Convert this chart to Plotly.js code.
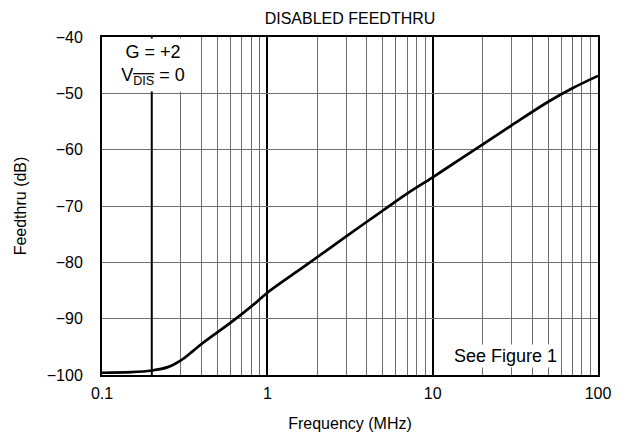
<!DOCTYPE html>
<html>
<head>
<meta charset="utf-8">
<script src="https://cdn.plot.ly/plotly-3.0.1.min.js"></script>
<style>html,body{margin:0;padding:0;background:#fff;}#chart{width:630px;height:441px;}</style>
</head>
<body>
<div id="chart"></div>
<script>
// Data
var freqMHz = [0.1, 0.15, 0.2, 0.25, 0.3, 0.35, 0.4, 0.5, 0.6, 0.7, 0.85, 1, 1.5, 2, 3, 4, 5, 7, 10, 15, 20, 30, 50, 70, 100];
var feedthruDB = [-99.6, -99.5, -99.2, -98.6, -97.4, -95.9, -94.5, -92.4, -90.7, -89.2, -87.2, -85.4, -81.7, -79.1, -75.4, -72.8, -70.8, -67.8, -64.9, -61.5, -59.1, -55.7, -51.5, -49.1, -46.9];
var majorTicks = [0.1, 1, 10, 100];
var majorLabels = ['0.1', '1', '10', '100'];
var minorTicks = [0.2,0.3,0.4,0.5,0.6,0.7,0.8,0.9,2,3,4,5,6,7,8,9,20,30,40,50,60,70,80,90];
var yTicks = [-100, -90, -80, -70, -60, -50, -40];
var markerLineFreq = 0.2;

var font = 'Liberation Sans, Arial, sans-serif';

var trace = {
  x: freqMHz, y: feedthruDB, type: 'scatter', mode: 'lines',
  line: {color: '#000', width: 2.7, shape: 'spline', smoothing: 1},
  hoverinfo: 'skip', showlegend: false
};

var layout = {
  width: 630, height: 441,
  margin: {l: 102, r: 32, t: 37, b: 66},
  paper_bgcolor: '#fff', plot_bgcolor: '#fff',
  font: {family: font, size: 16, color: '#000'},
  title: {text: 'DISABLED FEEDTHRU', font: {family: font, size: 16, color: '#000'},
          x: 0.5, xref: 'paper', xanchor: 'center', y: 1 - 18/441, yref: 'container', yanchor: 'middle'},
  xaxis: {
    type: 'log', range: [-1, 2],
    tickvals: majorTicks, ticktext: majorLabels,
    showgrid: true, gridcolor: '#000', gridwidth: 2,
    showline: true, mirror: true, linecolor: '#000', linewidth: 2,
    ticks: 'outside', ticklen: 3, tickcolor: 'rgba(0,0,0,0)',
    minor: {tickvals: minorTicks, showgrid: true, gridcolor: '#6e6e6e', gridwidth: 1, ticks: ''},
    zeroline: false,
    tickfont: {family: font, size: 16},
    title: {text: 'Frequency (MHz)', font: {family: font, size: 16}, standoff: 17}
  },
  yaxis: {
    range: [-100, -40], tickvals: yTicks,
    showgrid: true, gridcolor: '#6e6e6e', gridwidth: 1,
    showline: true, mirror: true, linecolor: '#000', linewidth: 2,
    ticks: 'outside', ticklen: 14, tickcolor: 'rgba(0,0,0,0)',
    zeroline: false,
    tickfont: {family: font, size: 16},
    title: {text: 'Feedthru (dB)', font: {family: font, size: 16}, standoff: 16}
  },
  shapes: [
    {type: 'line', xref: 'x', yref: 'paper', x0: markerLineFreq, x1: markerLineFreq, y0: 0, y1: 1,
     line: {color: '#000', width: 2}, layer: 'above'}
  ],
  annotations: [
    {xref: 'paper', yref: 'paper', x: 0.102, y: 0.9157, xanchor: 'center', yanchor: 'middle',
     text: 'G = +2<br>V<sub><span style="text-decoration:overline">DIS</span></sub> = 0',
     showarrow: false, bgcolor: '#fff', width: 94, height: 52, borderpad: 0,
     font: {family: font, size: 18, color: '#000'}},
    {xref: 'paper', yref: 'paper', x: 0.8125, y: 0.056, xanchor: 'center', yanchor: 'middle',
     text: 'See Figure 1', showarrow: false, bgcolor: '#fff', borderpad: 1,
     font: {family: font, size: 18, color: '#000'}}
  ]
};

Plotly.newPlot('chart', [trace], layout, {displayModeBar: false, staticPlot: true});
</script>
</body>
</html>
